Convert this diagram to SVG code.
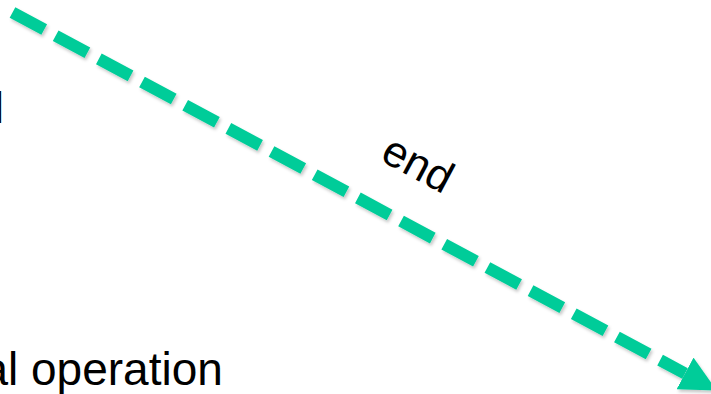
<svg xmlns="http://www.w3.org/2000/svg" width="711" height="394" viewBox="0 0 711 394">
  <style>
    .label { font-family: "Liberation Sans", Arial, sans-serif; fill: #000; }
    .flow { fill: none; stroke: #00CC99; stroke-width: 12; stroke-dasharray: 36 13; }
  </style>
  <defs>
    <filter id="soft-shadow" x="-10%" y="-10%" width="120%" height="120%">
      <feDropShadow dx="1.5" dy="2.5" stdDeviation="1.5" flood-color="#000" flood-opacity="0.22"/>
    </filter>
    <marker id="head" markerUnits="userSpaceOnUse" markerWidth="36" markerHeight="36"
            viewBox="0 0 36 36" refX="0" refY="18" orient="auto">
      <path d="M0,0 L36,18 L0,36 z" fill="#00CC99"/>
    </marker>
  </defs>

  <rect width="711" height="394" fill="#fff"/>

  <!-- text fragments at the left edge -->
  <g id="node-upper">
    <text class="label" x="-5.9" y="123" font-size="45">l</text>
  </g>
  <g id="node-lower">
    <text class="label" x="-17.6" y="385" font-size="46">al operation</text>
  </g>

  <!-- connectors -->
  <g id="connectors">
    <path class="flow" d="M12.5,12.5 L685,373.5" marker-end="url(#head)" filter="url(#soft-shadow)"/>
    <text class="label" font-size="44" text-anchor="middle"
          transform="translate(411,177) rotate(28.2)">end</text>
  </g>
</svg>
